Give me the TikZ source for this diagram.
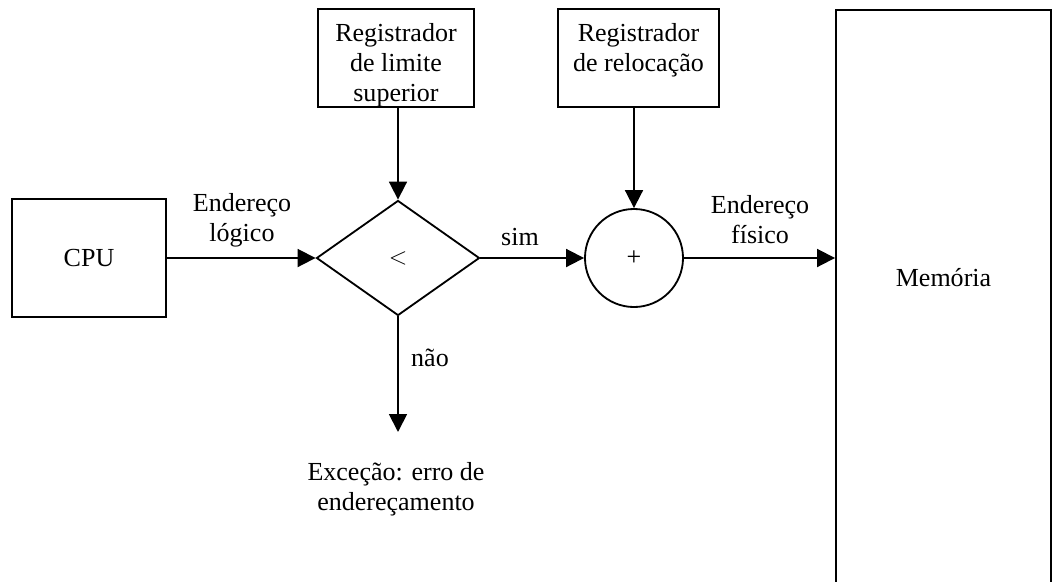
\documentclass[tikz,border=0pt]{standalone}
\usepackage{fontspec}
\setmainfont{Liberation Serif}
\usetikzlibrary{shapes.geometric,arrows.meta}
\newcommand{\diagfont}{\fontsize{18.5}{21.3}\selectfont}

\begin{document}
\begin{tikzpicture}[x=0.025cm,y=-0.025cm,
    every node/.style={font=\diagfont,align=center},
    box/.style={draw,line width=1.3pt,rectangle,inner sep=0pt},
    flow/.style={line width=1.3pt,-{Triangle[length=0.45cm,width=0.45cm]}}]
  \useasboundingbox (0,0) rectangle (1054,581);
  % Define the blocks
  \node[box,minimum width=3.85cm,minimum height=2.95cm] (cpu) at (89,258) {CPU};
  \node[box,minimum width=3.9cm,minimum height=2.45cm] (limite) at (396,58) {};
  \node[box,minimum width=4.025cm,minimum height=2.45cm] (reloc) at (638.5,58) {};
  \node[box,diamond,minimum width=4.075cm,minimum height=2.875cm] (teste) at (398,258) {$<$};
  \node[box,circle,minimum size=2.45cm] (soma) at (634,258) {+};
  \node[box,minimum width=5.375cm,minimum height=14.5cm,anchor=north] (mem) at (943.5,9) {};
  % Texts of the blocks
  \node (limitetxt) at (396,65) {Registrador\\de limite\\superior};
  \node (reloctxt) at (638.5,50) {Registrador\\de relocação};
  \node (memtxt) at (943.5,278) {Memória};
  \coordinate (erro) at (398,432);
  % Connect the blocks
  \draw[flow] (cpu.east) -- (teste.west);
  \draw[flow] (teste.north |- limite.south) -- (teste.north);
  \draw[flow] (teste.east) -- (soma.west);
  \draw[flow] (soma.north |- reloc.south) -- (soma.north);
  \draw[flow] (soma.east) -- (soma.east -| mem.west);
  \draw[flow] (teste.south) -- (erro);
  % Label the connectors
  \node (logico) at (242,220) {Endereço\\lógico};
  \node (sim) at (520,237) {sim};
  \node (fisico) at (760,220) {Endereço\\físico};
  \node (nao) at (430,358) {não};
  \node (excecao) at (396,489) {Exceção: erro de\\endereçamento};
\end{tikzpicture}
\end{document}
